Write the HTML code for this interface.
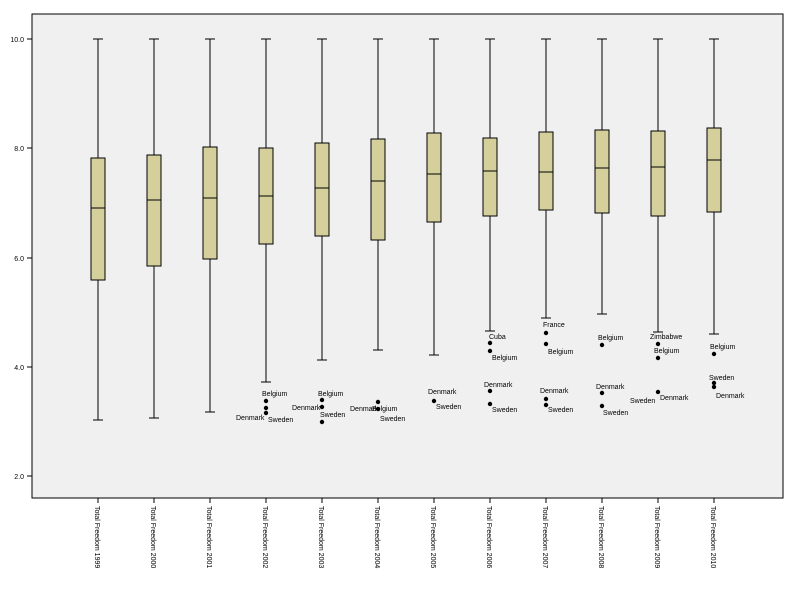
<!DOCTYPE html>
<html><head><meta charset="utf-8"><style>
body{margin:0;background:#fff;}
svg text{font-family:"Liberation Sans",sans-serif;font-size:7px;fill:#000;}
</style></head><body>
<svg width="795" height="585" viewBox="0 0 795 585" xmlns="http://www.w3.org/2000/svg">
<rect x="32" y="14" width="751" height="484" fill="#f0f0f0" stroke="#000" stroke-width="1"/>
<g stroke="#000" stroke-width="1">
<line x1="27" y1="39" x2="32" y2="39"/><line x1="27" y1="148" x2="32" y2="148"/><line x1="27" y1="258" x2="32" y2="258"/><line x1="27" y1="367" x2="32" y2="367"/><line x1="27" y1="476" x2="32" y2="476"/>
</g>
<text x="24" y="42" text-anchor="end">10.0</text>
<text x="24" y="151" text-anchor="end">8.0</text>
<text x="24" y="261" text-anchor="end">6.0</text>
<text x="24" y="370" text-anchor="end">4.0</text>
<text x="24" y="479" text-anchor="end">2.0</text>
<g stroke="#000" stroke-width="1" fill="#d5d09b">
<path d="M98 39V158M98 280V420M93 39H103M93 420H103M98 498V503"/><rect x="91" y="158" width="14" height="122"/><path d="M91 208H105"/>
<path d="M154 39V155M154 266V418M149 39H159M149 418H159M154 498V503"/><rect x="147" y="155" width="14" height="111"/><path d="M147 200H161"/>
<path d="M210 39V147M210 259V412M205 39H215M205 412H215M210 498V503"/><rect x="203" y="147" width="14" height="112"/><path d="M203 198H217"/>
<path d="M266 39V148M266 244V382M261 39H271M261 382H271M266 498V503"/><rect x="259" y="148" width="14" height="96"/><path d="M259 196H273"/>
<path d="M322 39V143M322 236V360M317 39H327M317 360H327M322 498V503"/><rect x="315" y="143" width="14" height="93"/><path d="M315 188H329"/>
<path d="M378 39V139M378 240V350M373 39H383M373 350H383M378 498V503"/><rect x="371" y="139" width="14" height="101"/><path d="M371 181H385"/>
<path d="M434 39V133M434 222V355M429 39H439M429 355H439M434 498V503"/><rect x="427" y="133" width="14" height="89"/><path d="M427 174H441"/>
<path d="M490 39V138M490 216V331M485 39H495M485 331H495M490 498V503"/><rect x="483" y="138" width="14" height="78"/><path d="M483 171H497"/>
<path d="M546 39V132M546 210V318M541 39H551M541 318H551M546 498V503"/><rect x="539" y="132" width="14" height="78"/><path d="M539 172H553"/>
<path d="M602 39V130M602 213V314M597 39H607M597 314H607M602 498V503"/><rect x="595" y="130" width="14" height="83"/><path d="M595 168H609"/>
<path d="M658 39V131M658 216V332M653 39H663M653 332H663M658 498V503"/><rect x="651" y="131" width="14" height="85"/><path d="M651 167H665"/>
<path d="M714 39V128M714 212V334M709 39H719M709 334H719M714 498V503"/><rect x="707" y="128" width="14" height="84"/><path d="M707 160H721"/>
</g>
<text transform="translate(95,506) rotate(90)">Total Freedom 1999</text>
<text transform="translate(151,506) rotate(90)">Total Freedom 2000</text>
<text transform="translate(207,506) rotate(90)">Total Freedom 2001</text>
<text transform="translate(263,506) rotate(90)">Total Freedom 2002</text>
<text transform="translate(319,506) rotate(90)">Total Freedom 2003</text>
<text transform="translate(375,506) rotate(90)">Total Freedom 2004</text>
<text transform="translate(431,506) rotate(90)">Total Freedom 2005</text>
<text transform="translate(487,506) rotate(90)">Total Freedom 2006</text>
<text transform="translate(543,506) rotate(90)">Total Freedom 2007</text>
<text transform="translate(599,506) rotate(90)">Total Freedom 2008</text>
<text transform="translate(655,506) rotate(90)">Total Freedom 2009</text>
<text transform="translate(711,506) rotate(90)">Total Freedom 2010</text>
<g fill="#000">
<circle cx="266" cy="401" r="2.2"/><circle cx="266" cy="408" r="2.2"/><circle cx="266" cy="413" r="2.2"/>
<circle cx="322" cy="400" r="2.2"/><circle cx="322" cy="407" r="2.2"/><circle cx="322" cy="422" r="2.2"/>
<circle cx="378" cy="402" r="2.2"/><circle cx="378" cy="409" r="2.2"/>
<circle cx="434" cy="401" r="2.2"/>
<circle cx="490" cy="343" r="2.2"/><circle cx="490" cy="351" r="2.2"/><circle cx="490" cy="391" r="2.2"/><circle cx="490" cy="404" r="2.2"/>
<circle cx="546" cy="333" r="2.2"/><circle cx="546" cy="344" r="2.2"/><circle cx="546" cy="399" r="2.2"/><circle cx="546" cy="405" r="2.2"/>
<circle cx="602" cy="345" r="2.2"/><circle cx="602" cy="393" r="2.2"/><circle cx="602" cy="406" r="2.2"/>
<circle cx="658" cy="344" r="2.2"/><circle cx="658" cy="358" r="2.2"/><circle cx="658" cy="392" r="2.2"/>
<circle cx="714" cy="354" r="2.2"/><circle cx="714" cy="383" r="2.2"/><circle cx="714" cy="387" r="2.2"/>
</g>
<text x="262" y="396">Belgium</text><text x="236" y="420">Denmark</text><text x="268" y="422">Sweden</text>
<text x="318" y="396">Belgium</text><text x="292" y="410">Denmark</text><text x="320" y="417">Sweden</text>
<text x="350" y="411">Denmark</text><text x="372" y="411">Belgium</text><text x="380" y="421">Sweden</text>
<text x="428" y="394">Denmark</text><text x="436" y="409">Sweden</text>
<text x="489" y="339">Cuba</text><text x="492" y="360">Belgium</text><text x="484" y="387">Denmark</text><text x="492" y="412">Sweden</text>
<text x="543" y="327">France</text><text x="548" y="354">Belgium</text><text x="540" y="393">Denmark</text><text x="548" y="412">Sweden</text>
<text x="598" y="340">Belgium</text><text x="596" y="389">Denmark</text><text x="603" y="415">Sweden</text>
<text x="650" y="339">Zimbabwe</text><text x="654" y="353">Belgium</text><text x="630" y="403">Sweden</text><text x="660" y="400">Denmark</text>
<text x="710" y="349">Belgium</text><text x="709" y="380">Sweden</text><text x="716" y="398">Denmark</text>
</svg>
</body></html>
